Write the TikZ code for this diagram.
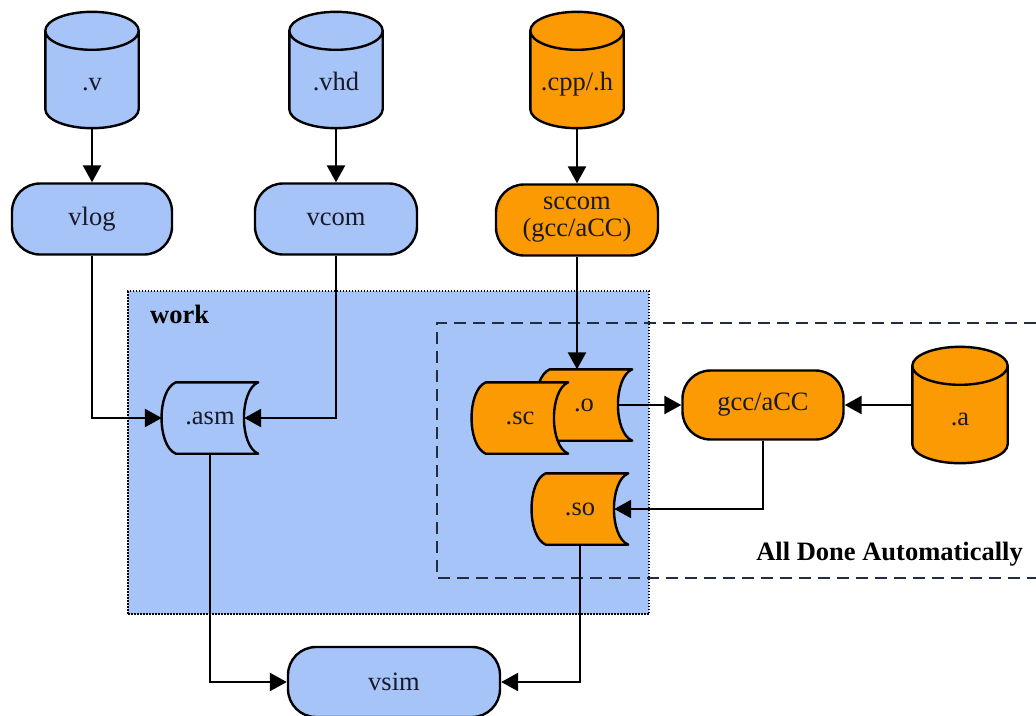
\documentclass[tikz,border=0pt]{standalone}
\usepackage{fontspec}
\setmainfont{Liberation Serif}
\usetikzlibrary{arrows.meta,calc}
\pgfdeclarelayer{bg}
\pgfdeclarelayer{shp}
\pgfsetlayers{bg,shp,main}
\definecolor{bluef}{RGB}{166,196,248}
\definecolor{orangef}{RGB}{252,154,4}
\definecolor{ink}{RGB}{25,25,40}
\definecolor{dashc}{RGB}{35,45,65}

\newcommand\cylshape[2]{%
 \begin{pgfonlayer}{shp}
 \path let \p1=(#1.north west), \p2=(#1.south east), \n1={(\x2-\x1)/2} in
  [draw=black, line width=2.4pt, fill=#2, line join=round]
  (\x1,\y1-19pt) -- (\x1,\y2+19pt)
  arc[start angle=180, end angle=360, x radius=\n1, y radius=19pt]
  -- (\x2,\y1-19pt)
  arc[start angle=0, end angle=180, x radius=\n1, y radius=19pt] -- cycle
  (\x1,\y1-19pt) arc[start angle=180, end angle=360, x radius=\n1, y radius=19pt];
 \end{pgfonlayer}}

\newcommand\storeshape[2]{%
 \begin{pgfonlayer}{shp}
 \path let \p1=(#1.north west), \p2=(#1.south east) in
  [draw=black, line width=2.4pt, fill=#2, line join=round]
  (\x1+14pt,\y1) -- (\x2,\y1)
  .. controls (\x2-19pt,\y1-8pt) and (\x2-19pt,\y2+8pt) .. (\x2,\y2)
  -- (\x1+14pt,\y2)
  .. controls (\x1-5pt,\y2+8pt) and (\x1-5pt,\y1-8pt) .. (\x1+14pt,\y1) -- cycle;
 \end{pgfonlayer}}

\begin{document}
\begin{tikzpicture}[x=1pt,y=-1pt,
  txt/.style={font=\fontsize{26.5}{30}\selectfont, text=ink, inner sep=0pt},
  proc/.style={txt, rectangle, rounded corners=28pt, draw=black, line width=2.4pt,
    minimum width=160pt, minimum height=71pt},
  bluep/.style={proc, fill=bluef},
  orangep/.style={proc, fill=orangef},
  cylnode/.style={txt, minimum width=93pt, text height=78pt, text depth=38pt},
  storenode/.style={txt, minimum width=96pt, minimum height=71pt},
  arr/.style={line width=2.5pt, -{Triangle[length=17pt,width=18pt]}},
  boldlbl/.style={font=\bfseries\fontsize{26.5}{30}\selectfont, text=black, inner sep=0pt},
]
\useasboundingbox (0,0) rectangle (1036,715);

% work area and automatic area
\begin{pgfonlayer}{bg}
\node[draw=black, fill=bluef, line width=2.2pt, dash pattern=on 1.6pt off 1.4pt,
  minimum width=521pt, minimum height=323pt, anchor=north west, inner sep=0pt] (work) at (127,290) {};
\draw[dashc, line width=2.6pt, dash pattern=on 12pt off 7pt]
  (1036,323) -- (437,323) -- (437,578) -- (1036,578);
\end{pgfonlayer}
\node[boldlbl, anchor=base west] (worklbl) at (150,323) {work};
\node[boldlbl, anchor=base east] (auto) at (1023,560) {All Done Automatically};

% source files
\node[cylnode] (v) at (92,70) {.v};
\node[cylnode] (vhd) at (336,70) {.vhd};
\node[cylnode] (cpp) at (577,70) {.cpp/.h};
\node[cylnode, minimum width=95pt] (a) at (960,405) {.a};
\cylshape{v}{bluef}
\cylshape{vhd}{bluef}
\cylshape{cpp}{orangef}
\cylshape{a}{orangef}

% tools
\node[bluep] (vlog) at (92,219) {vlog};
\node[bluep, minimum width=162pt] (vcom) at (336,219) {vcom};
\node[orangep, minimum width=162pt, align=center] (sccom) at (577,220) {sccom\\[-3pt](gcc/aCC)};
\node[orangep, minimum width=161pt, minimum height=69pt] (gcc) at (763,405) {gcc/aCC};
\node[bluep, minimum width=212pt, minimum height=70pt] (vsim) at (394,682) {vsim};

% stored data
\node[storenode] (o) at (584,405) {.o};
\node[storenode] (sc) at (520,418) {.sc};
\node[storenode] (so) at (580,509) {.so};
\node[storenode] (asm) at (210,418) {.asm};
\storeshape{o}{orangef}
\storeshape{sc}{orangef}
\storeshape{so}{orangef}
\storeshape{asm}{bluef}

% connectors
\draw[arr] (v.south) -- (vlog.north);
\draw[arr] (vhd.south) -- (vcom.north);
\draw[arr] (cpp.south) -- (sccom.north);
\draw[arr] (vlog.south) |- (asm.west);
\draw[arr] (vcom.south) |- ($(asm.east)+(-14,0)$);
\draw[arr] (sccom.south) -- (sccom.south |- o.north);
\draw[arr] ($(o.east)+(-14,0)$) -- (gcc.west);
\draw[arr] (a.west) -- (gcc.east);
\draw[arr] (gcc.south) |- ($(so.east)+(-14,0)$);
\draw[arr] (asm.south) |- (vsim.west);
\draw[arr] (so.south) |- (vsim.east);
\end{tikzpicture}
\end{document}
